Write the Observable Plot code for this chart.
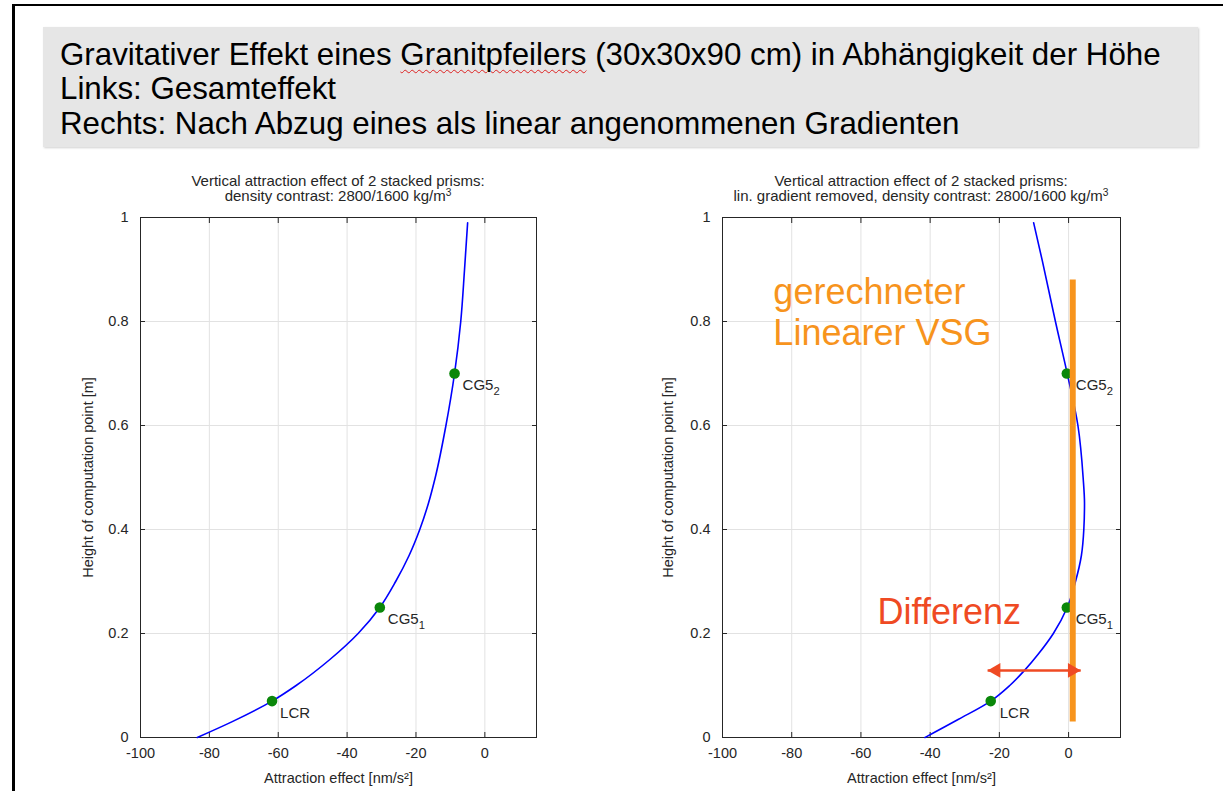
<!DOCTYPE html>
<html><head><meta charset="utf-8">
<script src="https://cdn.jsdelivr.net/npm/d3@7"></script>
<script src="https://cdn.jsdelivr.net/npm/@observablehq/plot@0.6"></script>
<style>
body{margin:0;background:#fff;font-family:"Liberation Sans",Arial,sans-serif;}
#page{position:relative;width:1223px;height:791px;overflow:hidden;background:#fff;}
#border{position:absolute;left:12px;top:4px;right:-10px;bottom:-10px;border-top:2px solid #000;border-left:3px solid #000;}
#box{position:absolute;left:43px;top:27px;width:1155px;height:120px;background:#e6e6e6;box-shadow:1px 1px 2px #d0d0d0;}
#box div{position:absolute;left:17px;font-size:31.3px;line-height:34px;color:#000;white-space:nowrap;}
.wavy{text-decoration:underline wavy #d22;text-decoration-thickness:1px;text-underline-offset:4px;}
.ptitle{position:absolute;width:500px;text-align:center;font-size:15px;line-height:15px;color:#262626;white-space:nowrap;}
.ptitle .sup{font-size:0.68em;position:relative;top:-0.5em;line-height:0;}
.panel{position:absolute;top:200px;}
</style>
</head><body>
<div id="page">
  <div id="border"></div>
  <div id="box">
    <div style="top:11px">Gravitativer Effekt eines <span class="wavy">Granitpfeilers</span> (30x30x90 cm) in Abhängigkeit der Höhe</div>
    <div style="top:45px">Links: Gesamteffekt</div>
    <div style="top:80px">Rechts: Nach Abzug eines als linear angenommenen Gradienten</div>
  </div>
  <div class="ptitle" style="left:88px;top:173px">Vertical attraction effect of 2 stacked prisms:<br>density contrast: 2800/1600 kg/m<span class="sup">3</span></div>
  <div class="ptitle" style="left:671px;top:173px">Vertical attraction effect of 2 stacked prisms:<br>lin. gradient removed, density contrast: 2800/1600 kg/m<span class="sup">3</span></div>
  <div class="panel" id="left" style="left:50px"></div>
  <div class="panel" id="right" style="left:630px"></div>
</div>
<script>
// ---- data ----
const xTicks = [-100, -80, -60, -40, -20, 0];
const yTicks = [0, 0.2, 0.4, 0.6, 0.8, 1];

const leftHeight = [0, 0.03, 0.07, 0.1, 0.15, 0.2, 0.25, 0.3, 0.35, 0.4, 0.45, 0.5, 0.6, 0.7, 0.8, 0.9, 0.99];
const leftEffect = [-83.5, -73.5, -61.8, -54.8, -45.0, -36.8, -30.5, -25.9, -22.0, -18.9, -16.4, -14.4, -11.3, -8.8, -7.0, -5.9, -5.0];

const rightHeight = [0, 0.035, 0.07, 0.1, 0.13, 0.16, 0.2, 0.25, 0.3, 0.35, 0.4, 0.45, 0.5, 0.6, 0.7, 0.8, 0.917, 0.99];
const rightEffect = [-41.5, -31.8, -22.5, -17.0, -12.6, -8.8, -4.4, -0.4, 2.0, 3.7, 4.4, 4.6, 4.2, 2.7, -0.4, -3.8, -7.6, -10.1];

const pointNames = ["LCR", "CG5_1", "CG5_2"];
const pointHeight = [0.07, 0.25, 0.7];
const leftPointEffect = [-61.8, -30.5, -8.8];
const rightPointEffect = [-22.5, -0.5, -0.5];

const vsgEffect = [1.2];
const vsgHeight = [0.03, 0.88];
const diffHeight = [0.129];
const diffEffect = [-23.4, 3.5];
const annotations = ["gerechneter", "Linearer VSG", "Differenz"];

// ---- helpers ----
const ink = "#262626";
const fmt = d => String(d);
function axes(ml) {
  return [
    Plot.gridX(xTicks, {stroke: "#e2e2e2", strokeOpacity: 1}),
    Plot.gridY(yTicks, {stroke: "#e2e2e2", strokeOpacity: 1}),
    Plot.axisX(xTicks, {anchor: "bottom", tickSize: 0, tickPadding: 10, color: ink, tickFormat: fmt,
      label: "Attraction effect [nm/s²]", labelAnchor: "center", labelArrow: "none", labelOffset: 45}),
    Plot.axisY(yTicks, {anchor: "left", tickSize: 0, tickPadding: 12, color: ink, tickFormat: fmt,
      label: "Height of computation point [m]", labelAnchor: "center", labelArrow: "none", labelOffset: ml - 32}),
    Plot.axisX(xTicks, {anchor: "bottom", tickSize: -5, tickFormat: () => "", label: null, stroke: ink}),
    Plot.axisX(xTicks, {anchor: "top", tickSize: -5, tickFormat: () => "", label: null, stroke: ink}),
    Plot.axisY(yTicks, {anchor: "left", tickSize: -5, tickFormat: () => "", label: null, stroke: ink}),
    Plot.axisY(yTicks, {anchor: "right", tickSize: -5, tickFormat: () => "", label: null, stroke: ink}),
    Plot.frame({stroke: ink, strokeWidth: 1})
  ];
}
function subscripts(svg) {
  svg.querySelectorAll("text").forEach(t => {
    if (t.children.length) return;
    const m = /^(.*)_(\d)$/.exec(t.textContent);
    if (!m) return;
    t.textContent = m[1];
    const s = document.createElementNS("http://www.w3.org/2000/svg", "tspan");
    s.setAttribute("dy", "0.4em");
    s.setAttribute("font-size", "0.75em");
    s.textContent = m[2];
    t.appendChild(s);
  });
  return svg;
}
const style = {fontFamily: "Liberation Sans, Arial, sans-serif", fontSize: "14.5px", color: ink, background: "transparent", overflow: "visible"};

// ---- left panel ----
const leftLine = leftHeight.map((h, i) => ({h, x: leftEffect[i]}));
const leftPts = pointNames.map((n, i) => ({n, h: pointHeight[i], x: leftPointEffect[i]}));
const leftPlot = Plot.plot({
  width: 500, height: 591, marginLeft: 90, marginRight: 14, marginTop: 17, marginBottom: 54,
  x: {domain: [-100, 15]}, y: {domain: [0, 1]}, style,
  marks: [
    ...axes(90),
    Plot.line(leftLine, {x: "x", y: "h", stroke: "#0000ff", strokeWidth: 1.6, curve: "monotone-y"}),
    Plot.dot(leftPts, {x: "x", y: "h", r: 5.3, fill: "#0a870a"}),
    Plot.text(leftPts, {x: "x", y: "h", text: "n", textAnchor: "start", dx: 8, dy: 12, fill: ink, fontSize: 15})
  ]
});
document.getElementById("left").appendChild(subscripts(leftPlot));

// ---- right panel ----
const rightLine = rightHeight.map((h, i) => ({h, x: rightEffect[i]}));
const rightPts = pointNames.map((n, i) => ({n, h: pointHeight[i], x: rightPointEffect[i]}));
const orange = "#f7941d", red = "#ef4a23";
const rightPlot = Plot.plot({
  width: 500, height: 591, marginLeft: 92, marginRight: 10, marginTop: 17, marginBottom: 54,
  x: {domain: [-100, 15]}, y: {domain: [0, 1]}, style,
  marks: [
    ...axes(92),
    Plot.line(rightLine, {x: "x", y: "h", stroke: "#0000ff", strokeWidth: 1.6, curve: "monotone-y"}),
    Plot.dot(rightPts, {x: "x", y: "h", r: 5.3, fill: "#0a870a"}),
    Plot.ruleX(vsgEffect, {x: d => d, y1: vsgHeight[0], y2: vsgHeight[1], stroke: orange, strokeWidth: 6}),
    Plot.text(rightPts, {x: "x", y: "h", text: "n", textAnchor: "start", dx: 9, dy: 12, fill: ink, fontSize: 15}),
    Plot.link(diffHeight, {x1: diffEffect[0], x2: diffEffect[1], y1: d => d, y2: d => d, stroke: red, strokeWidth: 2.5}),
    Plot.dot(diffHeight, {x: diffEffect[0], y: d => d, symbol: "triangle", r: 5.5, rotate: -90, dx: 8.5, fill: red}),
    Plot.dot(diffHeight, {x: diffEffect[1], y: d => d, symbol: "triangle", r: 5.5, rotate: 90, dx: -8.5, fill: red}),
    Plot.text([annotations[0]], {x: -85.3, y: 0.856, text: d => d, textAnchor: "start", lineAnchor: "middle", fontSize: 36, fill: orange}),
    Plot.text([annotations[1]], {x: -85.3, y: 0.777, text: d => d, textAnchor: "start", lineAnchor: "middle", fontSize: 36, fill: orange}),
    Plot.text([annotations[2]], {x: -55.2, y: 0.240, text: d => d, textAnchor: "start", lineAnchor: "middle", fontSize: 36, fill: red})
  ]
});
document.getElementById("right").appendChild(subscripts(rightPlot));
</script>
</body></html>
